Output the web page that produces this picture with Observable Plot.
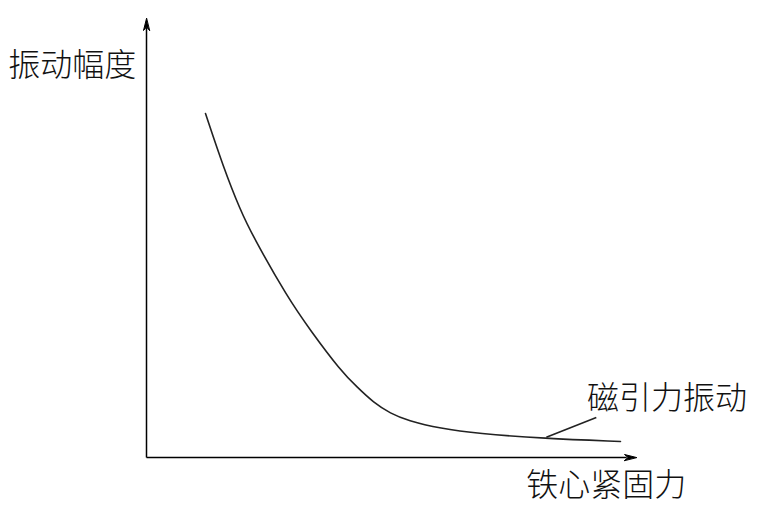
<!DOCTYPE html>
<html>
<head>
<meta charset="utf-8">
<script src="https://cdn.jsdelivr.net/npm/d3@7"></script>
<script src="https://cdn.jsdelivr.net/npm/@observablehq/plot@0.6"></script>
<style>
  html, body { margin: 0; padding: 0; background: #fff; }
  svg { display: block; }
</style>
</head>
<body>
<div id="chart"></div>
<script>
// Schematic curve: 铁心紧固力 (x) vs 振动幅度 (y), arbitrary units 0–100
const force = [12.04, 15.71, 19.18, 21.63, 28.78, 33.47, 39.59, 43.06, 46.33, 49.80, 53.27, 60.00, 67.55, 81.02, 96.73];
const amplitude = [78.36, 66.06, 56.26, 50.57, 36.45, 28.93, 19.82, 15.95, 12.53, 10.02, 8.43, 6.61, 5.47, 4.33, 3.64];
const yLabel = "振动幅度";
const xLabel = "铁心紧固力";
const curveLabel = "磁引力振动";

const curve = force.map((x, i) => ({x, y: amplitude[i]}));
const font = "'Noto Sans CJK SC', 'Noto Sans', sans-serif";

const arrowHead = {
  draw(context, l, r) {
    context.moveTo(0, -l);
    context.lineTo(-r, 0);
    context.lineTo(0, -l * 0.3);
    context.lineTo(r, 0);
    context.closePath();
  }
};

const chart = Plot.plot({
  width: 761,
  height: 526,
  marginLeft: 146,
  marginRight: 125,
  marginTop: 18,
  marginBottom: 69,
  style: {background: "#fff", overflow: "visible"},
  x: {domain: [0, 100], axis: null},
  y: {domain: [0, 100], axis: null},
  marks: [
    // axes
    Plot.link([0], {x1: 0, y1: 0, x2: 0, y2: 98, stroke: "#000", strokeWidth: 1.5}),
    Plot.link([0], {x1: 0, y1: 0, x2: 98, y2: 0, stroke: "#000", strokeWidth: 1.5}),
    Plot.vector([0], {x: 0, y: 100, length: 12, r: 3, rotate: 0, anchor: "end", shape: arrowHead, fill: "#000", stroke: "#000", strokeWidth: 1}),
    Plot.vector([0], {x: 100, y: 0, length: 12, r: 3, rotate: 90, anchor: "end", shape: arrowHead, fill: "#000", stroke: "#000", strokeWidth: 1}),
    // curve
    Plot.line(curve, {x: "x", y: "y", curve: "basis", stroke: "#222", strokeWidth: 1.6}),
    // leader line
    Plot.link([0], {x1: 81.6, y1: 4.6, x2: 91.8, y2: 9.1, stroke: "#222", strokeWidth: 1.6}),
    // labels
    Plot.text([yLabel], {x: -28.2, y: 89.3, text: d => d, textAnchor: "start", fontSize: 32, fontWeight: 300, fontFamily: font, fill: "#111"}),
    Plot.text([curveLabel], {x: 89.9, y: 13.4, text: d => d, textAnchor: "start", fontSize: 32, fontWeight: 300, fontFamily: font, fill: "#111"}),
    Plot.text([xLabel], {x: 77.5, y: -6.4, text: d => d, textAnchor: "start", fontSize: 32, fontWeight: 300, fontFamily: font, fill: "#111"})
  ]
});
document.getElementById("chart").append(chart);
</script>
</body>
</html>
